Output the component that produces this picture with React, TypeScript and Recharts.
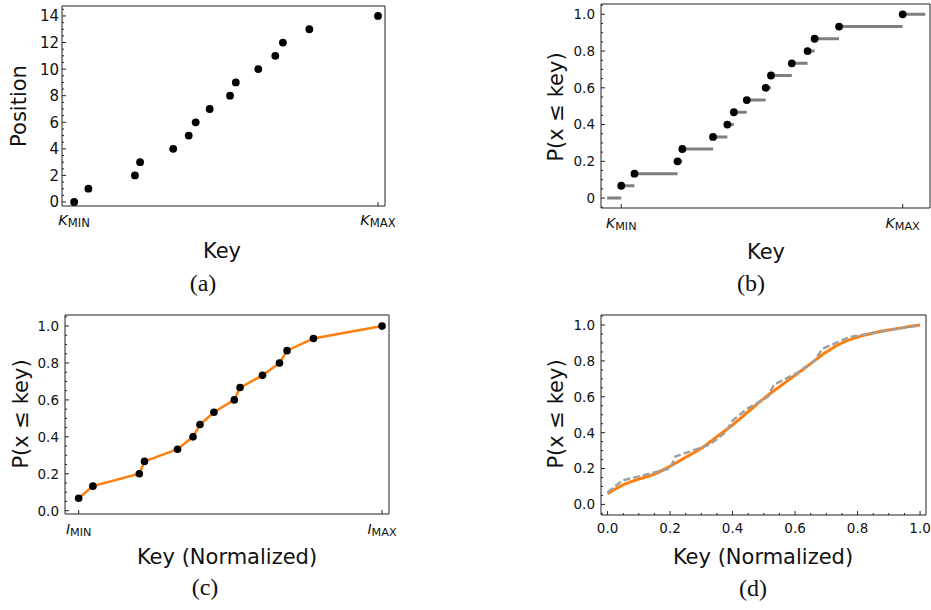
import React from 'react';
import { ComposedChart, Line, Scatter, XAxis, YAxis, ReferenceLine } from 'recharts';

// normalized key of each record (same keys in every panel)
const keys = [0, 0.047, 0.2, 0.217, 0.326, 0.377, 0.4, 0.446, 0.513, 0.532, 0.606, 0.662, 0.687, 0.774, 1.0];
// position in the sorted array, panel (a)
const positions = [0, 1, 2, 3, 4, 5, 6, 7, 8, 9, 10, 11, 12, 13, 14];
// empirical CDF, panels (b) (c) (d)
const cdf = [0.067, 0.133, 0.2, 0.267, 0.333, 0.4, 0.467, 0.533, 0.6, 0.667, 0.733, 0.8, 0.867, 0.933, 1.0];
// where the step plot starts / ends in (b)
const stepStart = -0.05;
const stepEnd = 1.08;
// smooth fitted CDF, panel (d)
const fitKeys = [0, 0.05, 0.1, 0.15, 0.2, 0.25, 0.3, 0.35, 0.4, 0.45, 0.5, 0.55, 0.6, 0.65, 0.7, 0.75, 0.8, 0.85, 0.9, 0.95, 1.0];
const fitValues = [0.06, 0.109, 0.141, 0.169, 0.213, 0.263, 0.313, 0.378, 0.443, 0.517, 0.59, 0.656, 0.72, 0.785, 0.85, 0.9, 0.933, 0.956, 0.972, 0.987, 1.0];

// tick labels
const posMajors = [0, 2, 4, 6, 8, 10, 12, 14];
const probMajors = [0, 0.2, 0.4, 0.6, 0.8, 1.0];
const keyEnds = [0, 1];
const keyEndLabels = ['MIN', 'MAX'];
const normMajors = [0, 0.2, 0.4, 0.6, 0.8, 1.0];

const FONT = '"DejaVu Sans", sans-serif';
const INK = '#111';
const SPINE = '#222';
const ORANGE = '#ff7f0e';

const posPoints = keys.map((k, i) => ({ x: k, y: positions[i] }));
const cdfPoints = keys.map((k, i) => ({ x: k, y: cdf[i] }));
const fitPoints = fitKeys.map((k, i) => ({ x: k, y: fitValues[i] }));

// horizontal pieces of the step function, broken with nulls
const stepPoints: { x: number; y: number | null }[] = [
  { x: stepStart, y: 0 },
  { x: keys[0], y: 0 },
  { x: keys[0], y: null },
];
keys.forEach((k, i) => {
  const next = i < keys.length - 1 ? keys[i + 1] : stepEnd;
  stepPoints.push({ x: k, y: cdf[i] }, { x: next, y: cdf[i] }, { x: next, y: null });
});

const steps = (from: number, to: number, step: number) => {
  const out: number[] = [];
  for (let v = from; v <= to + 1e-9; v += step) out.push(Math.round(v * 1000) / 1000);
  return out;
};

const isMajor = (v: number, majors: number[]) => majors.some((m) => Math.abs(m - v) < 1e-6);

const leftTick = (p: any, majors: number[], fmt: (v: number) => string, size: number, gap: number) => {
  const v = p.payload.value;
  const major = isMajor(v, majors);
  return (
    <g>
      <line x1={p.x} x2={p.x + (major ? 4 : 2)} y1={p.y} y2={p.y} stroke={SPINE} strokeWidth={1} />
      {major && (
        <text x={p.x - gap} y={p.y} dy="0.36em" textAnchor="end" fontFamily={FONT} fontSize={size} fill={INK}>
          {fmt(v)}
        </text>
      )}
    </g>
  );
};

const bottomTick = (p: any, majors: number[], size: number, off: number) => {
  const v = p.payload.value;
  const major = isMajor(v, majors);
  return (
    <g>
      <line x1={p.x} x2={p.x} y1={p.y} y2={p.y - (major ? 4 : 2)} stroke={SPINE} strokeWidth={1} />
      {major && (
        <text x={p.x} y={p.y + off} textAnchor="middle" fontFamily={FONT} fontSize={size} fill={INK}>
          {v.toFixed(1)}
        </text>
      )}
    </g>
  );
};

const boundTick = (p: any, letter: string, size: number, off: number) => {
  const idx = keyEnds.indexOf(p.payload.value);
  return (
    <g>
      <line x1={p.x} x2={p.x} y1={p.y} y2={p.y - 4} stroke={SPINE} strokeWidth={1} />
      <text x={p.x} y={p.y + off} textAnchor="middle" fontFamily={FONT} fontSize={size} fill={INK}>
        <tspan fontStyle="italic">{letter}</tspan>
        <tspan fontSize={size * 0.8} dy={2}>{keyEndLabels[idx]}</tspan>
      </text>
    </g>
  );
};

const dot = (p: any) => <circle cx={p.cx} cy={p.cy} r={3.9} fill="#000" />;

const fmtInt = (v: number) => String(v);
const fmtProbB = (v: number) => (v === 0 ? '0' : v.toFixed(1));
const fmt1 = (v: number) => v.toFixed(1);

const Title: React.FC<{ x: number; y: number; text: string; rotate?: boolean; size?: number }> = ({ x, y, text, rotate, size = 21 }) => (
  <div
    style={{
      position: 'absolute',
      left: x,
      top: y,
      transform: `translate(-50%, -50%)${rotate ? ' rotate(-90deg)' : ''}`,
      whiteSpace: 'nowrap',
      fontFamily: FONT,
      fontSize: size,
      lineHeight: 1,
      color: INK,
    }}
  >
    {text}
  </div>
);

const Caption: React.FC<{ x: number; y: number; text: string }> = ({ x, y, text }) => (
  <div
    style={{
      position: 'absolute',
      left: x,
      top: y,
      transform: 'translate(-50%, -50%)',
      whiteSpace: 'nowrap',
      fontFamily: '"Liberation Serif", serif',
      fontSize: 24,
      lineHeight: 1,
      color: INK,
    }}
  >
    {text}
  </div>
);

const spine = { stroke: SPINE, strokeWidth: 1 };

export default function App() {
  return (
    <div style={{ position: 'absolute', left: 0, top: 0, width: 931, height: 610, background: '#fff', overflow: 'hidden' }}>
      {/* (a) */}
      <div style={{ position: 'absolute', left: 0, top: 0 }}>
        <ComposedChart width={400} height={240} margin={{ top: 6, right: 15, bottom: 0, left: 0 }}>
          <XAxis type="number" dataKey="x" domain={[-0.04, 1.023]} allowDataOverflow ticks={keyEnds} interval={0}
            tickSize={0} tickMargin={0} tickLine={false} axisLine={spine} height={34}
            tick={(p: any) => boundTick(p, 'K', 14.5, 19)} />
          <YAxis type="number" dataKey="y" domain={[-0.3, 14.75]} allowDataOverflow ticks={steps(0, 14.5, 0.5)} interval={0}
            tickSize={0} tickMargin={0} tickLine={false} axisLine={spine} width={62}
            tick={(p: any) => leftTick(p, posMajors, fmtInt, 15, 3)} />
          <ReferenceLine y={14.75} stroke={SPINE} ifOverflow="visible" />
          <ReferenceLine x={1.023} stroke={SPINE} ifOverflow="visible" />
          <Scatter data={posPoints} dataKey="y" shape={dot} isAnimationActive={false} />
        </ComposedChart>
      </div>

      {/* (b) */}
      <div style={{ position: 'absolute', left: 520, top: 0 }}>
        <ComposedChart width={411} height={240} margin={{ top: 4, right: 1, bottom: 0, left: 0 }}>
          <XAxis type="number" dataKey="x" domain={[-0.072, 1.097]} allowDataOverflow ticks={keyEnds} interval={0}
            tickSize={0} tickMargin={0} tickLine={false} axisLine={spine} height={32}
            tick={(p: any) => boundTick(p, 'K', 14, 20)} />
          <YAxis type="number" dataKey="y" domain={[-0.054, 1.056]} allowDataOverflow ticks={steps(-0.05, 1.05, 0.05)} interval={0}
            tickSize={0} tickMargin={0} tickLine={false} axisLine={spine} width={81}
            tick={(p: any) => leftTick(p, probMajors, fmtProbB, 13.5, 6)} />
          <ReferenceLine y={1.056} stroke={SPINE} ifOverflow="visible" />
          <ReferenceLine x={1.097} stroke={SPINE} ifOverflow="visible" />
          <Line data={stepPoints} dataKey="y" stroke="#808080" strokeWidth={3} dot={false} activeDot={false}
            connectNulls={false} isAnimationActive={false} />
          <Scatter data={cdfPoints} dataKey="y" shape={dot} isAnimationActive={false} />
        </ComposedChart>
      </div>

      {/* (c) */}
      <div style={{ position: 'absolute', left: 0, top: 300 }}>
        <ComposedChart width={400} height={240} margin={{ top: 15, right: 11, bottom: 0, left: 0 }}>
          <XAxis type="number" dataKey="x" domain={[-0.045, 1.023]} allowDataOverflow ticks={keyEnds} interval={0}
            tickSize={0} tickMargin={0} tickLine={false} axisLine={spine} height={26}
            tick={(p: any) => boundTick(p, 'I', 14, 19.5)} />
          <YAxis type="number" dataKey="y" domain={[-0.018, 1.06]} allowDataOverflow ticks={steps(0, 1.05, 0.05)} interval={0}
            tickSize={0} tickMargin={0} tickLine={false} axisLine={spine} width={65}
            tick={(p: any) => leftTick(p, probMajors, fmt1, 13.5, 6)} />
          <ReferenceLine y={1.06} stroke={SPINE} ifOverflow="visible" />
          <ReferenceLine x={1.023} stroke={SPINE} ifOverflow="visible" />
          <Line data={cdfPoints} dataKey="y" type="linear" stroke={ORANGE} strokeWidth={2.5}
            dot={{ r: 3.8, fill: '#000', stroke: 'none' }} activeDot={false} isAnimationActive={false} />
        </ComposedChart>
      </div>

      {/* (d) */}
      <div style={{ position: 'absolute', left: 520, top: 300 }}>
        <ComposedChart width={411} height={240} margin={{ top: 15, right: 5, bottom: 0, left: 0 }}>
          <XAxis type="number" dataKey="x" domain={[-0.021, 1.019]} allowDataOverflow ticks={steps(0, 1, 0.05)} interval={0}
            tickSize={0} tickMargin={0} tickLine={false} axisLine={spine} height={25}
            tick={(p: any) => bottomTick(p, normMajors, 13.5, 17.5)} />
          <YAxis type="number" dataKey="y" domain={[-0.059, 1.056]} allowDataOverflow ticks={steps(-0.05, 1.05, 0.05)} interval={0}
            tickSize={0} tickMargin={0} tickLine={false} axisLine={spine} width={81}
            tick={(p: any) => leftTick(p, probMajors, fmt1, 13.5, 6)} />
          <ReferenceLine y={1.056} stroke={SPINE} ifOverflow="visible" />
          <ReferenceLine x={1.019} stroke={SPINE} ifOverflow="visible" />
          <Line data={fitPoints} dataKey="y" type="monotone" stroke={ORANGE} strokeWidth={3} dot={false}
            activeDot={false} isAnimationActive={false} />
          <Line data={cdfPoints} dataKey="y" type="linear" stroke="#a0a0a0" strokeWidth={2.5} strokeDasharray="7 3"
            dot={false} activeDot={false} isAnimationActive={false} />
        </ComposedChart>
      </div>

      <Title x={222} y={251} text="Key" />
      <Title x={19} y={106} text="Position" rotate />
      <Title x={766} y={252} text="Key" />
      <Title x={556} y={107} text="P(x ≤ key)" rotate />
      <Title x={227} y={557} text="Key (Normalized)" />
      <Title x={21} y={414} text="P(x ≤ key)" rotate />
      <Title x={763} y={557} text="Key (Normalized)" />
      <Title x={556} y={414} text="P(x ≤ key)" rotate />

      <Caption x={203} y={283} text="(a)" />
      <Caption x={751} y={283} text="(b)" />
      <Caption x={205} y={587} text="(c)" />
      <Caption x={753} y={588} text="(d)" />
    </div>
  );
}
